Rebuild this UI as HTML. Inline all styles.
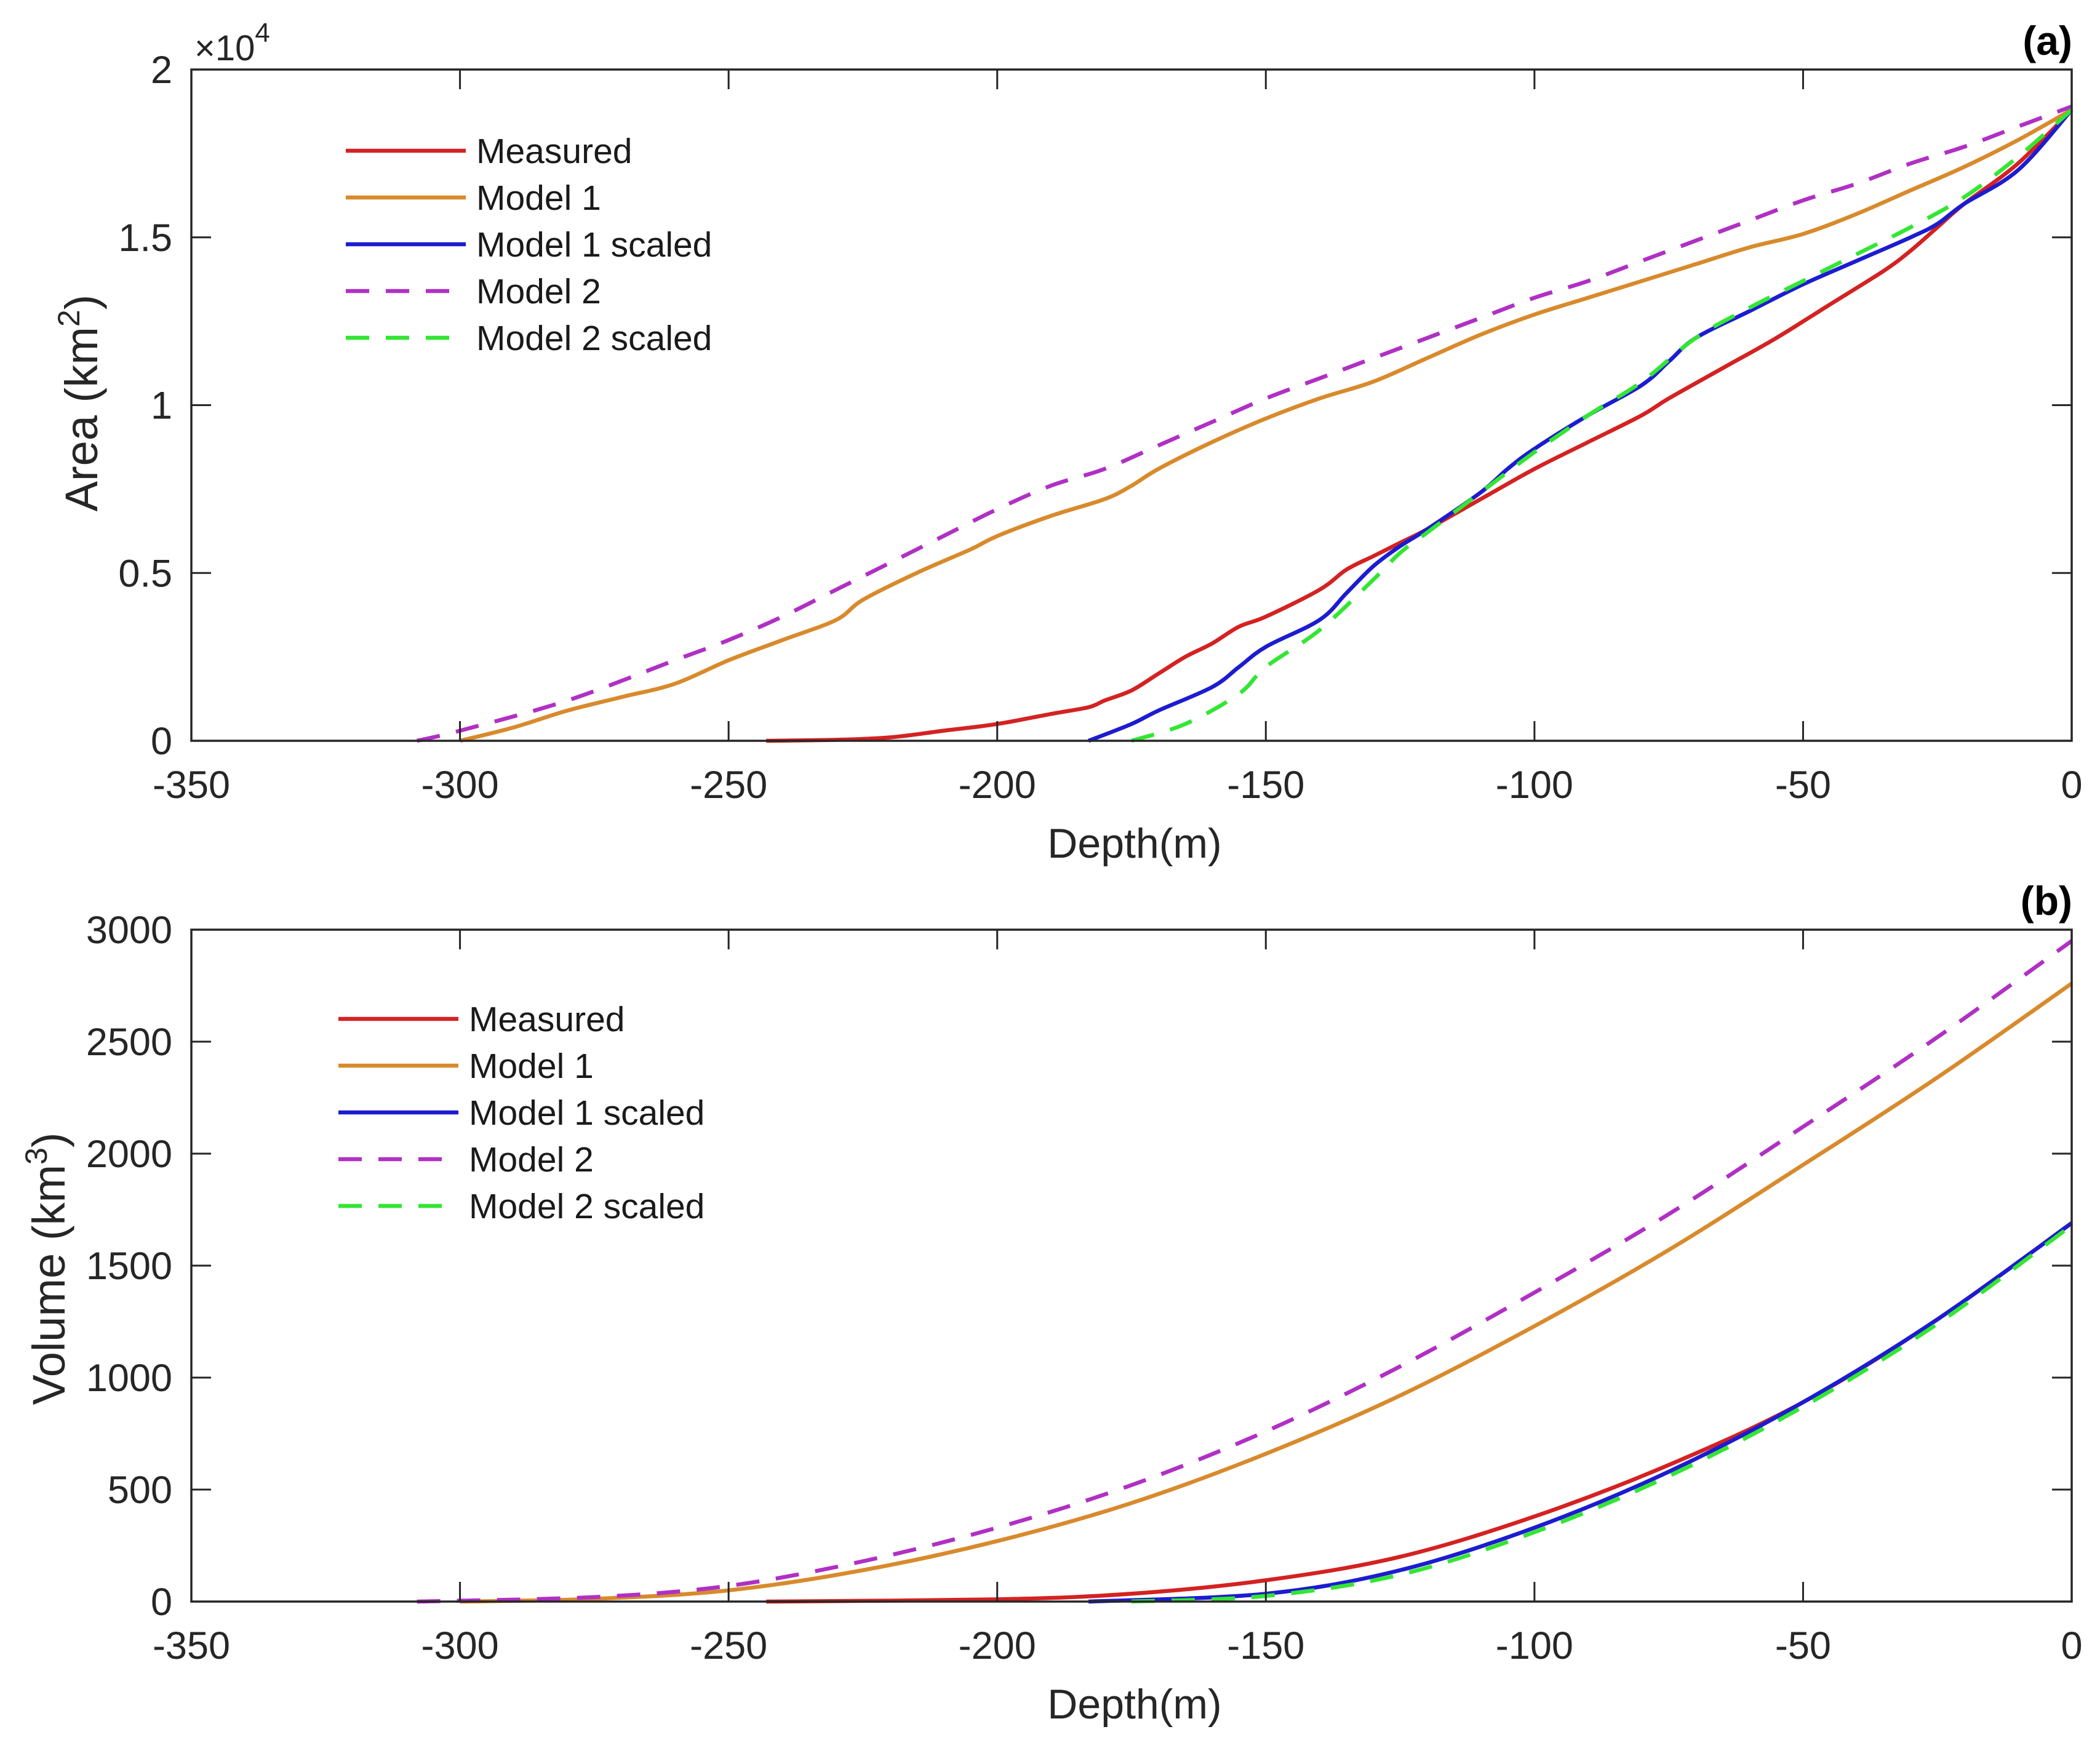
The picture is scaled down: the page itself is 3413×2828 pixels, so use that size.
<!DOCTYPE html>
<html><head><meta charset="utf-8"><style>
html,body{margin:0;padding:0;background:#fff;}
svg{display:block;font-family:"Liberation Sans",Arial,sans-serif;}
</style></head><body>
<svg id="chart" width="3413" height="2828" viewBox="0 0 3413 2828" xmlns="http://www.w3.org/2000/svg"></svg>
<script>
// ---- data ----
const xTicks = [-350,-300,-250,-200,-150,-100,-50,0];
const areaTicks = [0,0.5,1,1.5,2];
const areaTickLabels = ["0","0.5","1","1.5","2"];
const volTicks = [0,500,1000,1500,2000,2500,3000];
const volTickLabels = ["0","500","1000","1500","2000","2500","3000"];
const seriesNames = ["Measured","Model 1","Model 1 scaled","Model 2","Model 2 scaled"];

// Panel (a): area (x1e4 km^2)
const aMeasuredX = [-243,-230,-220,-210,-200,-190,-183,-180,-175,-170,-165,-160,-155,-150,-140,-135,-130,-125,-120,-110,-100,-90,-80,-75,-65,-55,-45,-35,-30,-25,-20,-10,0];
const aMeasuredY = [0,0.003,0.01,0.03,0.05,0.08,0.1,0.12,0.15,0.2,0.25,0.29,0.34,0.37,0.45,0.51,0.55,0.59,0.63,0.72,0.81,0.89,0.97,1.02,1.11,1.2,1.3,1.4,1.46,1.53,1.6,1.72,1.88];
const aModel1X = [-300,-290,-280,-270,-260,-250,-240,-230,-225,-215,-205,-200,-190,-180,-175,-170,-160,-150,-140,-130,-120,-110,-100,-90,-80,-70,-60,-50,-40,-30,-20,-10,0];
const aModel1Y = [0,0.04,0.09,0.13,0.17,0.24,0.3,0.36,0.42,0.5,0.57,0.61,0.67,0.72,0.76,0.81,0.89,0.96,1.02,1.07,1.14,1.21,1.27,1.32,1.37,1.42,1.47,1.51,1.57,1.64,1.71,1.79,1.88];
const aModel1sX = [-183,-175,-170,-160,-155,-150,-140,-135,-130,-125,-120,-110,-105,-100,-90,-80,-75,-70,-60,-50,-40,-30,-25,-20,-10,0];
const aModel1sY = [0,0.05,0.09,0.16,0.22,0.28,0.36,0.44,0.52,0.58,0.63,0.74,0.81,0.87,0.97,1.06,1.13,1.2,1.28,1.36,1.43,1.5,1.54,1.6,1.7,1.88];
const aModel2X = [-308,-300,-280,-260,-250,-240,-230,-220,-210,-200,-190,-180,-170,-160,-150,-140,-130,-120,-110,-100,-90,-80,-70,-60,-50,-40,-30,-20,-10,0];
const aModel2Y = [0,0.03,0.12,0.24,0.3,0.37,0.45,0.53,0.61,0.69,0.76,0.81,0.88,0.95,1.02,1.08,1.14,1.2,1.26,1.32,1.37,1.43,1.49,1.55,1.61,1.66,1.72,1.77,1.83,1.89];
const aModel2sX = [-175,-165,-155,-150,-140,-130,-125,-120,-110,-100,-90,-80,-70,-60,-50,-40,-30,-20,-10,0];
const aModel2sY = [0,0.05,0.14,0.22,0.33,0.48,0.56,0.62,0.74,0.86,0.97,1.07,1.2,1.29,1.37,1.45,1.53,1.62,1.74,1.88];

// Panel (b): volume (km^3)
const bMeasuredX = [-243,-200,-175,-150,-125,-100,-75,-50,-25,0];
const bMeasuredY = [0,10,35,95,200,380,610,890,1260,1690];
const bModel1X = [-300,-275,-250,-225,-200,-175,-150,-125,-100,-75,-50,-25,0];
const bModel1Y = [0,12,50,140,270,440,660,920,1230,1570,1950,2340,2760];
const bModel1sX = [-183,-150,-125,-100,-75,-50,-25,0];
const bModel1sY = [0,35,140,330,580,890,1260,1690];
const bModel2X = [-308,-275,-250,-225,-200,-175,-150,-125,-100,-75,-50,-25,0];
const bModel2Y = [0,20,70,180,330,520,760,1050,1380,1730,2120,2520,2950];
const bModel2sX = [-175,-150,-125,-100,-75,-50,-25,0];
const bModel2sY = [0,25,120,310,560,870,1240,1680];

// ---- drawing ----
const NS="http://www.w3.org/2000/svg";
const svg=document.getElementById('chart');
function el(tag,attrs,parent,text){const e=document.createElementNS(NS,tag);for(const k in attrs)e.setAttribute(k,attrs[k]);if(text!==undefined)e.textContent=text;(parent||svg).appendChild(e);return e;}
const colors=["#d42222","#d88a2c","#1c1cd0","#b030c4","#33e633"];
const dashed=[false,false,false,true,true];
const XL=311,XR=3367;
function sx(v){return XL+(v+350)/350*(XR-XL);}
function smoothPath(pts){
  let d="M"+pts[0][0].toFixed(1)+","+pts[0][1].toFixed(1);
  for(let i=0;i<pts.length-1;i++){
    const p0=pts[Math.max(0,i-1)],p1=pts[i],p2=pts[i+1],p3=pts[Math.min(pts.length-1,i+2)];
    const c1=[p1[0]+(p2[0]-p0[0])/6,p1[1]+(p2[1]-p0[1])/6];
    const c2=[p2[0]-(p3[0]-p1[0])/6,p2[1]-(p3[1]-p1[1])/6];
    d+=" C"+c1[0].toFixed(1)+","+c1[1].toFixed(1)+" "+c2[0].toFixed(1)+","+c2[1].toFixed(1)+" "+p2[0].toFixed(1)+","+p2[1].toFixed(1);
  }
  return d;
}
function panel(p){
  const g=el('g',{});
  
  
  const sy=v=>p.yb-(v-p.ymin)/(p.ymax-p.ymin)*(p.yb-p.yt);
  const order=[1,3,0,2,4];
  order.forEach(i=>{
    const xs=p.xs[i],ys=p.ys[i];
    const pts=xs.map((x,k)=>[sx(x),sy(ys[k])]);
    const path=el('path',{d:smoothPath(pts),fill:'none',stroke:colors[i],'stroke-width':6.5,'stroke-linejoin':'round'},g);
    if(dashed[i])path.setAttribute('stroke-dasharray','38 27');
    
    
  });
  const box=el('rect',{x:XL,y:p.yt,width:XR-XL,height:p.yb-p.yt,fill:'none',stroke:'#262626','stroke-width':3.5},g);
  
  
  xTicks.forEach(t=>{
    const x=sx(t);
    el('line',{x1:x,x2:x,y1:p.yb,y2:p.yb-32,stroke:'#262626','stroke-width':3},g);
    el('line',{x1:x,x2:x,y1:p.yt,y2:p.yt+32,stroke:'#262626','stroke-width':3},g);
    const tx=el('text',{x:x,y:p.yb+93,'text-anchor':'middle','font-size':63,fill:'#262626'},g,String(t));
    
    
  });
  p.yticks.forEach((t,k)=>{
    const y=sy(t);
    el('line',{x1:XL,x2:XL+32,y1:y,y2:y,stroke:'#262626','stroke-width':3},g);
    el('line',{x1:XR,x2:XR-32,y1:y,y2:y,stroke:'#262626','stroke-width':3},g);
    const ty=el('text',{x:280,y:y+22,'text-anchor':'end','font-size':63,fill:'#262626'},g,p.ylabels[k]);
    
    
  });
  const xt=el('text',{x:1844,y:p.yb+190,'text-anchor':'middle','font-size':68,fill:'#262626'},g,'Depth(m)');
  
  
  const ytg=el('text',{transform:'translate('+p.ytx+','+p.ytc+') rotate(-90)','text-anchor':'middle','font-size':74,fill:'#262626'},g);
  
  
  el('tspan',{},ytg,p.ytitle+' (km');
  el('tspan',{dy:-29,'font-size':50},ytg,p.sup);
  el('tspan',{dy:29},ytg,')');
  const lab=el('text',{x:3368,y:p.yt-24,'text-anchor':'end','font-size':66,'font-weight':600,fill:'#000'},g,p.label);
  
  
  const lg=el('g',{},g);
  
  
  seriesNames.forEach((n,i)=>{
    const y=p.legY+i*p.legDy;
    const ln=el('line',{x1:p.legX,x2:p.legX+195,y1:y,y2:y,stroke:colors[i],'stroke-width':6.5},lg);
    if(dashed[i])ln.setAttribute('stroke-dasharray','38 27');
    
    
    const tx=el('text',{x:p.legX+212,y:y+20,'font-size':57,fill:'#1a1a1a'},lg,n);
    
    
  });
  return g;
}
panel({name:'area-panel',prefix:'a',yt:113,yb:1204,ymin:0,ymax:2,yticks:areaTicks,ylabels:areaTickLabels,
  xs:[aMeasuredX,aModel1X,aModel1sX,aModel2X,aModel2sX],ys:[aMeasuredY,aModel1Y,aModel1sY,aModel2Y,aModel2sY],
  ytitle:'Area',sup:'2',ytx:158,ytc:655,label:'(a)',legX:562,legY:245,legDy:76});
panel({name:'volume-panel',prefix:'b',yt:1511,yb:2603,ymin:0,ymax:3000,yticks:volTicks,ylabels:volTickLabels,
  xs:[bMeasuredX,bModel1X,bModel1sX,bModel2X,bModel2sX],ys:[bMeasuredY,bModel1Y,bModel1sY,bModel2Y,bModel2sY],
  ytitle:'Volume',sup:'3',ytx:105,ytc:2062,label:'(b)',legX:550,legY:1656,legDy:76});
const ex=el('text',{x:316,y:98,'font-size':58,fill:'#262626'});


el('tspan',{},ex,'×10');
el('tspan',{dy:-30,'font-size':44},ex,'4');
</script>
</body></html>
